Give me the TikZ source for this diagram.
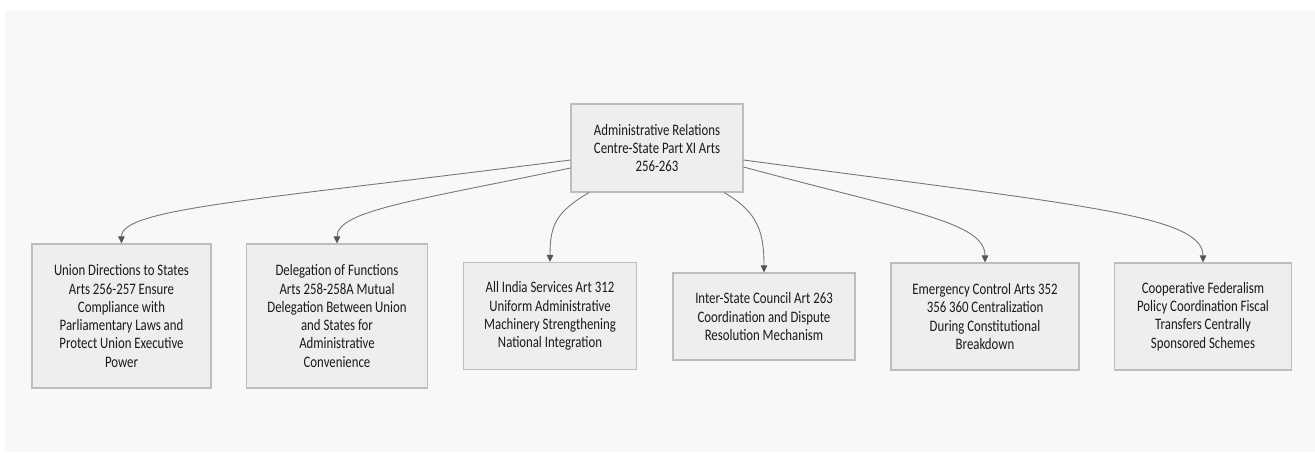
\documentclass[tikz,border=0pt]{standalone}
\usepackage{fontspec}
\setmainfont{Carlito}[FakeStretch=0.8]
\usetikzlibrary{arrows.meta,calc}
\definecolor{bgc}{HTML}{F8F8F8}
\definecolor{boxfill}{HTML}{EEEEEE}
\definecolor{boxline}{HTML}{BDBDBD}
\definecolor{edgec}{HTML}{777777}
\definecolor{tipc}{HTML}{555555}
\definecolor{txt}{HTML}{1A1A1A}
\tikzset{
  box/.style={draw=boxline, fill=boxfill, line width=1.1pt, align=center,
    inner sep=0pt, text=txt, font=\fontsize{16}{18.3}\selectfont},
  link/.style={draw=edgec, line width=0.9pt,
    -{Triangle[length=7pt,width=6.5pt,fill=tipc,color=tipc]}}
}
\begin{document}
\begin{tikzpicture}[x=1pt,y=-1pt]
\useasboundingbox (0,0) rectangle (1315,453);
\fill[white] (0,0) rectangle (1315,453);
\fill[bgc] (5,10) rectangle (1315,452);

\node[box, minimum width=172pt, minimum height=88pt] (top) at (657,148)
  {Administrative Relations\\Centre-State Part XI Arts\\256-263};
\node[box, minimum width=179pt, minimum height=144pt] (b1) at (121.5,316)
  {Union Directions to States\\Arts 256-257 Ensure\\Compliance with\\Parliamentary Laws and\\Protect Union Executive\\Power};
\node[box, minimum width=181pt, minimum height=144pt] (b2) at (337,316)
  {Delegation of Functions\\Arts 258-258A Mutual\\Delegation Between Union\\and States for\\Administrative\\Convenience};
\node[box, minimum width=173pt, minimum height=107pt] (b3) at (550,316)
  {All India Services Art 312\\Uniform Administrative\\Machinery Strengthening\\National Integration};
\node[box, minimum width=182pt, minimum height=87pt] (b4) at (764,316.5)
  {Inter-State Council Art 263\\Coordination and Dispute\\Resolution Mechanism};
\node[box, minimum width=188pt, minimum height=107pt] (b5) at (985,316.5)
  {Emergency Control Arts 352\\356 360 Centralization\\During Constitutional\\Breakdown};
\node[box, minimum width=177pt, minimum height=107pt] (b6) at (1203,316.5)
  {Cooperative Federalism\\Policy Coordination Fiscal\\Transfers Centrally\\Sponsored Schemes};

\draw[link] ($(top.west)+(0,12)$) .. controls (260,200) and (121,208) .. (b1.north);
\draw[link] ($(top.west)+(0,20)$) .. controls (420,200) and (337,210) .. (b2.north);
\draw[link] ($(top.south)+(-68,0)$) .. controls (556,212) and (550,225) .. (b3.north);
\draw[link] ($(top.south)+(67,0)$) .. controls (758,212) and (764,232) .. (b4.north);
\draw[link] ($(top.east)+(0,19)$) .. controls (910,212) and (985,222) .. (b5.north);
\draw[link] ($(top.east)+(0,12)$) .. controls (1080,205) and (1203,215) .. (b6.north);
\end{tikzpicture}
\end{document}
